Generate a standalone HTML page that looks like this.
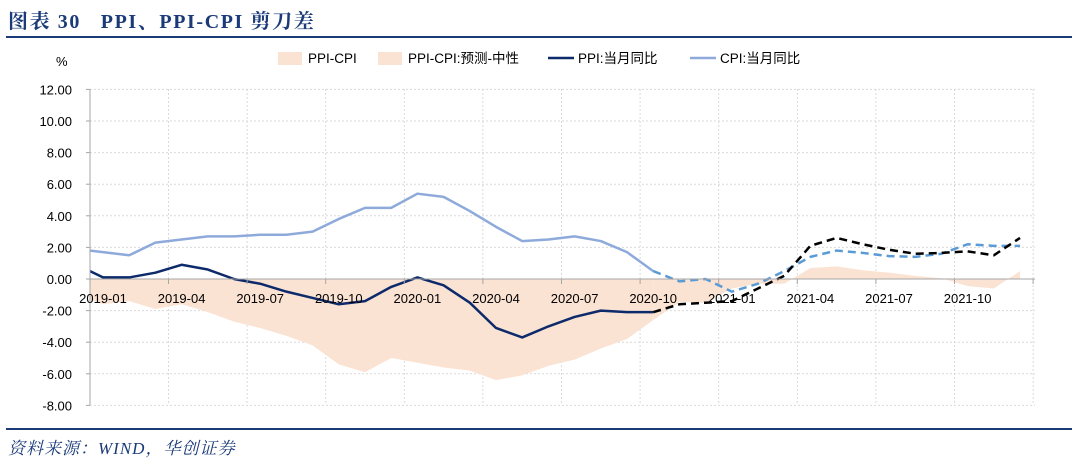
<!DOCTYPE html>
<html><head><meta charset="utf-8"><style>
body{margin:0;background:#fff;width:1080px;height:470px;overflow:hidden;font-family:"Liberation Sans","Noto Sans CJK SC",sans-serif}
#title{position:absolute;left:8px;top:5px;font:bold 20px "Liberation Serif","Noto Serif CJK SC",serif;color:#1a3a78;letter-spacing:1.6px;white-space:pre}
#tline{position:absolute;left:6px;top:36px;width:1066px;height:2px;background:#1a3a78}
#bline{position:absolute;left:6px;top:428px;width:1066px;height:2px;background:#1a3a78}
#src{position:absolute;left:8px;top:434px;font:italic 17px "Liberation Serif","Noto Serif CJK SC",serif;color:#1a3a78;letter-spacing:1px}
svg{position:absolute;left:0;top:0}
</style></head><body>
<div id="title">图表 30   PPI、PPI-CPI 剪刀差</div>
<div id="tline"></div>
<svg id="c" width="1080" height="470"></svg>
<div id="bline"></div>
<div id="src">资料来源：WIND，华创证券</div>
<script>
// month index m: -1 = 2018-12, 0 = 2019-01 ... 35 = 2021-12
const startMonth = -1;
const cpiActual = [1.9,1.7,1.5,2.3,2.5,2.7,2.7,2.8,2.8,3.0,3.8,4.5,4.5,5.4,5.2,4.3,3.3,2.4,2.5,2.7,2.4,1.7,0.5];
const ppiActual = [0.9,0.1,0.1,0.4,0.9,0.6,0.0,-0.3,-0.8,-1.2,-1.6,-1.4,-0.5,0.1,-0.4,-1.5,-3.1,-3.7,-3.0,-2.4,-2.0,-2.1,-2.1];
const forecastStart = 21;
const cpiForecast = [0.5,-0.15,0.0,-0.8,-0.3,0.5,1.4,1.8,1.65,1.45,1.4,1.6,2.2,2.1,2.1];
const ppiForecast = [-2.1,-1.6,-1.5,-1.4,-0.6,0.2,2.1,2.6,2.2,1.85,1.6,1.65,1.75,1.5,2.6];
const yTicks = [12,10,8,6,4,2,0,-2,-4,-6,-8];
const xLabels = ["2019-01","2019-04","2019-07","2019-10","2020-01","2020-04","2020-07","2020-10","2021-01","2021-04","2021-07","2021-10"];

const NS="http://www.w3.org/2000/svg", svg=document.getElementById('c');
const L=90,R=1035,T=89,B=405;
const x=m=>103+26.2*m;
const y=v=>279-v*15.8;
function el(t,a,p){const e=document.createElementNS(NS,t);for(const k in a)e.setAttribute(k,a[k]);(p||svg).appendChild(e);return e;}
const defs=el('defs',{});const cp=el('clipPath',{id:'pc'},defs);el('rect',{x:L,y:T-5,width:R-L,height:B-T+10},cp);
yTicks.forEach(v=>{
  const g=el('line',{x1:L,x2:R,y1:y(v),y2:y(v),stroke:'#d9d9d9','stroke-dasharray':'2,2'});
  
  
  const t=el('text',{x:72,y:y(v)+5,'text-anchor':'end','font-size':13,fill:'#000'});
  t.textContent=v.toFixed(2);
  
  
});
for(let m=-0.5;x(m)<R;m+=3){
  if(m>0){const g=el('line',{x1:x(m),x2:x(m),y1:T,y2:B,stroke:'#d9d9d9','stroke-dasharray':'2,2'});
  
  }
}
const ppiAll=[],cpiAll=[];
ppiActual.forEach((v,i)=>ppiAll[i]=v);cpiActual.forEach((v,i)=>cpiAll[i]=v);
const fo=forecastStart-startMonth;
ppiForecast.forEach((v,i)=>ppiAll[fo+i]=v);cpiForecast.forEach((v,i)=>cpiAll[fo+i]=v);
const g=el('g',{'clip-path':'url(#pc)'});
function area(i0,i1,name){
  let d=`M${x(i0+startMonth)},${y(0)}`;
  for(let i=i0;i<=i1;i++)d+=`L${x(i+startMonth)},${y(ppiAll[i]-cpiAll[i])}`;
  d+=`L${x(i1+startMonth)},${y(0)}Z`;
  const p=el('path',{d,fill:'#fbe3d3'},g);
  
  
}
area(0,fo,'spread-area-actual');area(fo,ppiAll.length-1,'spread-area-forecast');
const ax=el('line',{x1:L,x2:R,y1:y(0),y2:y(0),stroke:'#a6a6a6'});


const ay=el('line',{x1:L,x2:L,y1:T,y2:B,stroke:'#a6a6a6'});


yTicks.forEach(v=>el('line',{x1:L-4,x2:L,y1:y(v),y2:y(v),stroke:'#a6a6a6'}));
for(let m=-0.5;x(m)<R;m+=3)el('line',{x1:x(m),x2:x(m),y1:y(0),y2:y(0)+5,stroke:'#a6a6a6'});
xLabels.forEach((s,i)=>{
  const t=el('text',{x:x(i*3),y:303,'text-anchor':'middle','font-size':13,fill:'#000'});
  t.textContent=s;
  
  
});
function line(vals,off,col,dash,name,w){
  const d=vals.map((v,i)=>(i?'L':'M')+x(off+i)+','+y(v)).join('');
  const a={d,fill:'none',stroke:col,'stroke-width':w||2.5,'stroke-linejoin':'round'};
  if(dash)a['stroke-dasharray']=dash;
  const p=el('path',a,g);
  
  
}
line(cpiActual,startMonth,'#8eaadb',null,'cpi-line');
line(ppiActual,startMonth,'#0d2a6b',null,'ppi-line');
line(cpiForecast,forecastStart,'#5b9bd5','8,5','cpi-forecast-line');
line(ppiForecast,forecastStart,'#000','8,5','ppi-forecast-line');
const pu=el('text',{x:56,y:66,'font-size':13});pu.textContent='%';


const leg=[['area','#fbe3d3',278,'PPI-CPI'],['area','#fbe3d3',378,'PPI-CPI:预测-中性'],['line','#0d2a6b',548,'PPI:当月同比'],['line','#8eaadb',690,'CPI:当月同比']];
leg.forEach(l=>{
  const gg=el('g',{});
  
  
  if(l[0]=='area')el('rect',{x:l[2],y:52,width:24,height:13,fill:l[1]},gg);
  else el('line',{x1:l[2],x2:l[2]+26,y1:58,y2:58,stroke:l[1],'stroke-width':2.5},gg);
  const t=el('text',{x:l[2]+30,y:63,'font-size':13.5},gg);t.textContent=l[3];
});
</script>
</body></html>
